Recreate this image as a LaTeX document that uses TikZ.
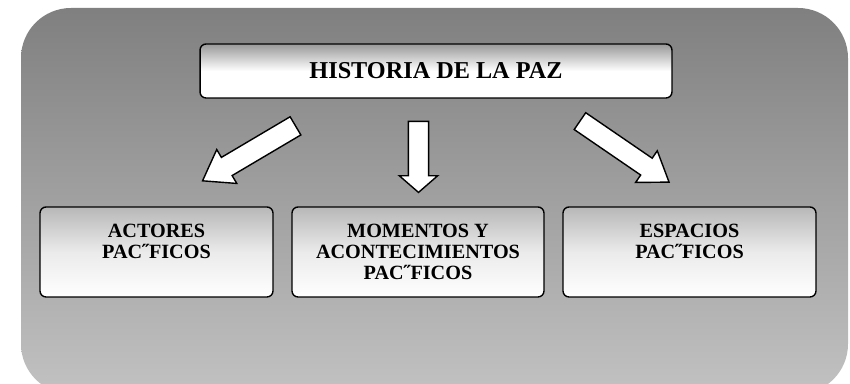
\documentclass[tikz,border=0pt]{standalone}
\usepackage{fontspec}
\setmainfont{Liberation Serif}
\usetikzlibrary{shapes}
\usetikzlibrary{shapes.arrows}
\usetikzlibrary{positioning}
\tikzset{
    mybox/.style = {rectangle, rounded corners=0.12cm, draw=black, line width=0.8pt, top color=black!28, bottom color=white, middle color=black!8, align=center, font=\fontsize{11.5}{12}\selectfont\bfseries, text=black, minimum height=1.8cm},
    mytitle/.style = {mybox, minimum width=9.44cm, minimum height=1.08cm, top color=black!40, middle color=white, font=\fontsize{13.8}{14}\selectfont\bfseries},
    myarrow/.style = {single arrow, draw=black, fill=white, line width=0.8pt, inner xsep=0pt, single arrow head indent=0pt},
}

\begin{document}
\begin{tikzpicture}[x=0.02cm, y=-0.02cm]
  \useasboundingbox (0,0) rectangle (850,384);
  % background
  \shade[top color=black!50, bottom color=black!24, rounded corners=1cm] (21,8) rectangle (848,394);
  % boxes
  \node[mytitle] (historia) at (436,71) {HISTORIA DE LA PAZ};
  \node[mybox, minimum width=4.66cm] (actores) at (156.5,252) {ACTORES\\PAC˝FICOS\\~};
  \node[mybox, minimum width=5.04cm] (momentos) at (418,252) {MOMENTOS Y\\ACONTECIMIENTOS\\PAC˝FICOS};
  \node[mybox, minimum width=5.06cm] (espacios) at (689.5,252) {ESPACIOS\\PAC˝FICOS\\~};
  % arrows
  \node[myarrow, minimum height=2.16cm, inner ysep=0.197cm, single arrow head extend=0.183cm, single arrow tip angle=70, rotate=210.6] (fa) at (255.5,149.5) {};
  \node[myarrow, minimum height=1.42cm, inner ysep=0.19cm, single arrow head extend=0.18cm, single arrow tip angle=98, rotate=270] (fm) at (418.5,152.5) {};
  \node[myarrow, minimum height=2.16cm, inner ysep=0.19cm, single arrow head extend=0.18cm, single arrow tip angle=70, rotate=325.6] (fe) at (618.5,147.5) {};
\end{tikzpicture}
\end{document}
